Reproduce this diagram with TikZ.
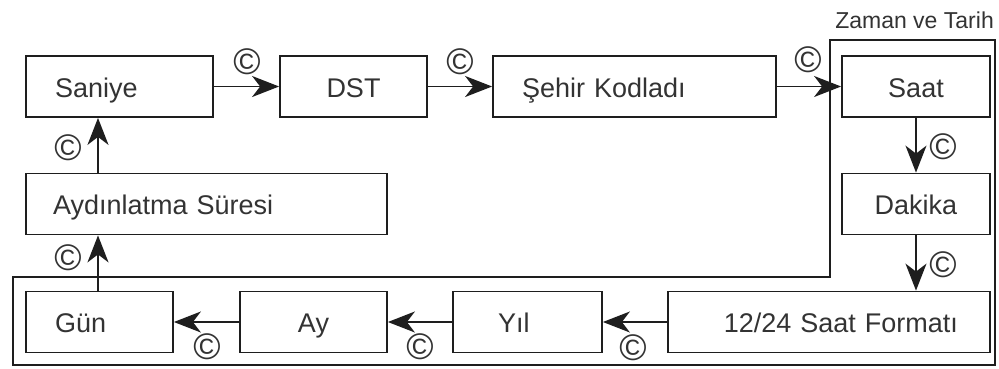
\documentclass[tikz,border=0pt]{standalone}
\usepackage{fontspec}
\setmainfont{Liberation Sans}
\usetikzlibrary{arrows.meta,calc}
\definecolor{linec}{HTML}{1E1E1E}
\definecolor{textc}{HTML}{333333}
\tikzset{
  box/.style={draw=linec, line width=1.8pt, minimum height=61pt, inner ysep=0pt,
    text height=21pt, text depth=0pt,
    text=textc, font=\fontsize{27}{30}\selectfont},
  arr/.style={draw=linec, line width=1.8pt, -{Stealth[length=27pt,width=21pt,inset=8pt]}},
  cmark/.style={text=textc, inner sep=0pt, font=\fontsize{37}{40}\selectfont},
  frame/.style={draw=linec, line width=1.8pt},
}
\begin{document}
\begin{tikzpicture}[x=1pt,y=-1pt]
\useasboundingbox (0,0) rectangle (999,368);
% frame
\draw[frame] (830,40) -- (995,40) -- (995,365) -- (13,365) -- (13,277) -- (830,277) -- cycle;
\node[text=textc, font=\fontsize{23}{26}\selectfont, anchor=east, inner sep=0pt] (zt) at (994,20) {Zaman ve Tarih};
% boxes
\node[box, inner xsep=29pt, text width=129pt, align=left] (saniye) at (119.5,86.5) {Saniye};
\node[box, inner xsep=10pt, text width=127pt, align=center] (dst) at (353.5,86.5) {DST};
\node[box, inner xsep=29pt, text width=225pt, align=left] (sehir) at (634.5,86.5) {Şehir Kodladı};
\node[box, inner xsep=10pt, text width=128pt, align=center] (saat) at (916,86.5) {Saat};
\node[box, inner xsep=10pt, text width=128pt, align=center] (dakika) at (916,204) {Dakika};
\node[box, inner xsep=32pt, text width=258pt, align=right] (format) at (829,322) {12/24 Saat Formatı};
\node[box, inner xsep=45pt, text width=59pt, align=left] (yil) at (527.5,322) {Yıl};
\node[box, inner xsep=10pt, text width=127pt, align=center] (ay) at (313.5,322) {Ay};
\node[box, inner xsep=29pt, text width=89pt, align=left] (gun) at (99.5,322) {Gün};
\node[box, inner xsep=27pt, text width=307pt, align=left] (ayd) at (206.5,204) {Aydınlatma Süresi};
% connectors
\coordinate (vx) at (98,0);
\draw[arr] (saniye) -- (dst);
\draw[arr] (dst) -- (sehir);
\draw[arr] (sehir) -- (saat);
\draw[arr] (saat) -- (dakika);
\draw[arr] (dakika.south) -- (dakika.south |- format.north);
\draw[arr] (format) -- (yil);
\draw[arr] (yil) -- (ay);
\draw[arr] (ay) -- (gun);
\draw[arr] (gun.north -| vx) -- (ayd.south -| vx);
\draw[arr] (ayd.north -| vx) -- (saniye.south -| vx);
% copyright marks
\node[cmark] (c1) at (247,62) {©};
\node[cmark] (c2) at (460,62) {©};
\node[cmark] (c3) at (808,60) {©};
\node[cmark] (c4) at (943,147) {©};
\node[cmark] (c5) at (943,265) {©};
\node[cmark] (c6) at (633,348) {©};
\node[cmark] (c7) at (420,347) {©};
\node[cmark] (c8) at (207,347) {©};
\node[cmark] (c9) at (68,258) {©};
\node[cmark] (c10) at (68,148) {©};
\end{tikzpicture}
\end{document}
